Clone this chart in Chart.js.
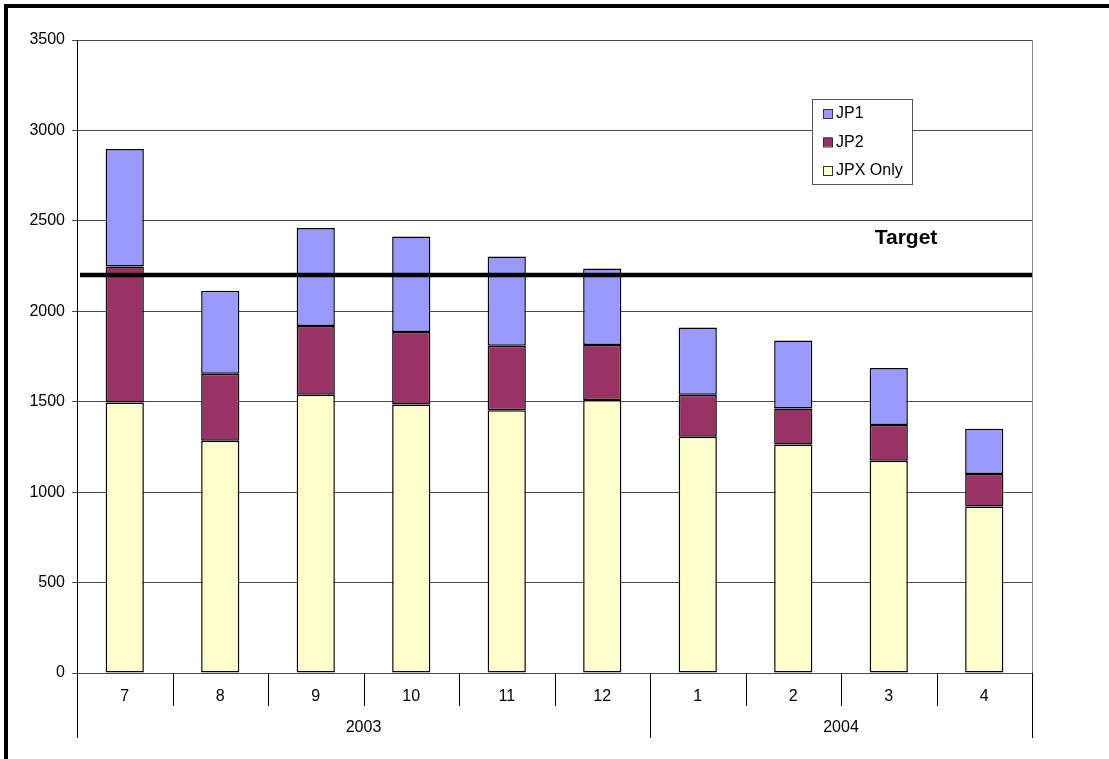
<!DOCTYPE html>
<html>
<head>
<meta charset="utf-8">
<script src="https://cdn.jsdelivr.net/npm/chart.js@4.4.0/dist/chart.umd.min.js"></script>
<style>
  html, body { margin: 0; padding: 0; background: #fff; }
  canvas { display: block; }
</style>
</head>
<body>
<canvas id="chart" width="1109" height="759"></canvas>
<script>
// місяці по осі X та групування за роками
const months = ["7", "8", "9", "10", "11", "12", "1", "2", "3", "4"];
const years = ["2003", "2004"];
const yearSpans = [6, 4];

// значення серій (стовпці зі стеком)
const jpxOnly = [1496, 1284, 1538, 1485, 1453, 1509, 1306, 1263, 1173, 920];
const jp2 = [751, 370, 381, 401, 356, 305, 232, 199, 198, 180];
const jp1 = [651, 459, 542, 527, 494, 422, 372, 376, 316, 250];

const yTicks = [0, 500, 1000, 1500, 2000, 2500, 3000, 3500];
const target = 2200;

const FONT = '"Liberation Sans", Arial, sans-serif';

// рамка, двоярусна вісь X, лінія цілі та легенда
const decorPlugin = {
  id: "decor",
  beforeDraw(chart) {
    const ctx = chart.ctx;
    ctx.save();
    ctx.fillStyle = "#fff";
    ctx.fillRect(0, 0, chart.width, chart.height);
    ctx.fillStyle = "#000";
    ctx.fillRect(4, 4, chart.width - 4, 4);
    ctx.fillRect(4, 4, 4, chart.height - 4);
    ctx.restore();
  },
  afterDatasetsDraw(chart) {
    const { ctx, chartArea } = chart;
    const y = chart.scales.y.getPixelForValue(target);
    ctx.save();
    ctx.strokeStyle = "#000";
    ctx.lineWidth = 4.5;
    ctx.beginPath();
    ctx.moveTo(chartArea.left + 3, y);
    ctx.lineTo(chartArea.right + 1, y);
    ctx.stroke();
    ctx.restore();
  },
  afterDraw(chart) {
    const { ctx, chartArea } = chart;
    const x = chart.scales.x;
    const y = chart.scales.y;
    const half = (x.getPixelForValue(1) - x.getPixelForValue(0)) / 2;
    const bottom = chartArea.bottom;
    ctx.save();

    // права межа області побудови
    ctx.strokeStyle = "#888";
    ctx.lineWidth = 1;
    ctx.beginPath();
    ctx.moveTo(Math.round(chartArea.right) + 0.5, chartArea.top);
    ctx.lineTo(Math.round(chartArea.right) + 0.5, bottom);
    ctx.stroke();

    // поділки між місяцями та між роками
    const groupEdges = [0];
    yearSpans.reduce((acc, n) => { groupEdges.push(acc + n); return acc + n; }, 0);
    ctx.strokeStyle = "#000";
    for (let i = 0; i <= months.length; i++) {
      const px = Math.round(x.getPixelForValue(i) - half) + 0.5;
      const long = groupEdges.includes(i);
      ctx.beginPath();
      ctx.moveTo(px, bottom);
      ctx.lineTo(px, long ? bottom + 65 : bottom + 33);
      ctx.stroke();
    }

    ctx.fillStyle = "#000";
    ctx.font = "16px " + FONT;
    ctx.textAlign = "center";
    ctx.textBaseline = "middle";
    months.forEach((m, i) => {
      ctx.fillText(m, x.getPixelForValue(i), bottom + 24);
    });
    years.forEach((yr, g) => {
      const a = groupEdges[g], b = groupEdges[g + 1];
      const cx = (x.getPixelForValue(a) - half + x.getPixelForValue(b - 1) + half) / 2;
      ctx.fillText(yr, cx, bottom + 55);
    });

    // підпис цілі
    ctx.font = "bold 21px " + FONT;
    ctx.textBaseline = "alphabetic";
    ctx.fillText("Target", 906, y.getPixelForValue(target) - 31);

    // легенда
    const lx = 812, ly = 99, lw = 100, lh = 85;
    ctx.fillStyle = "#fff";
    ctx.fillRect(lx, ly, lw, lh);
    ctx.strokeStyle = "#555";
    ctx.strokeRect(lx + 0.5, ly + 0.5, lw, lh);
    const items = chart.data.datasets.slice().reverse();
    ctx.font = "16px " + FONT;
    ctx.textAlign = "left";
    ctx.textBaseline = "middle";
    items.forEach((ds, i) => {
      const cy = 114 + i * 28.5;
      ctx.fillStyle = ds.backgroundColor;
      ctx.fillRect(823, cy - 5, 9, 9);
      ctx.strokeStyle = "#333";
      ctx.strokeRect(823.5, cy - 4.5, 9, 9);
      ctx.fillStyle = "#000";
      ctx.fillText(ds.label, 836, cy);
    });
    ctx.restore();
  }
};

new Chart(document.getElementById("chart"), {
  type: "bar",
  data: {
    labels: months,
    datasets: [
      { label: "JPX Only", data: jpxOnly, backgroundColor: "#FFFFCC" },
      { label: "JP2", data: jp2, backgroundColor: "#993366" },
      { label: "JP1", data: jp1, backgroundColor: "#9999FF" }
    ].map(ds => Object.assign(ds, {
      borderColor: "#000",
      borderWidth: 1.5,
      borderSkipped: false,
      barPercentage: 0.4,
      categoryPercentage: 1.0
    }))
  },
  options: {
    responsive: false,
    animation: false,
    layout: { padding: { top: 40, right: 77, bottom: 86, left: 0 } },
    plugins: {
      legend: { display: false },
      tooltip: { enabled: false }
    },
    scales: {
      x: {
        stacked: true,
        display: false
      },
      y: {
        stacked: true,
        min: 0,
        max: 3500,
        afterFit(scale) { scale.width = 77; },
        afterBuildTicks(scale) { scale.ticks = yTicks.map(v => ({ value: v })); },
        ticks: {
          color: "#000",
          padding: 7,
          font: { family: FONT, size: 16 },
          callback: (v) => String(v)
        },
        grid: { color: "#4a4a4a", lineWidth: 1, tickLength: 5 },
        border: { display: true, color: "#000", width: 1 }
      }
    }
  },
  plugins: [decorPlugin]
});
</script>
</body>
</html>
